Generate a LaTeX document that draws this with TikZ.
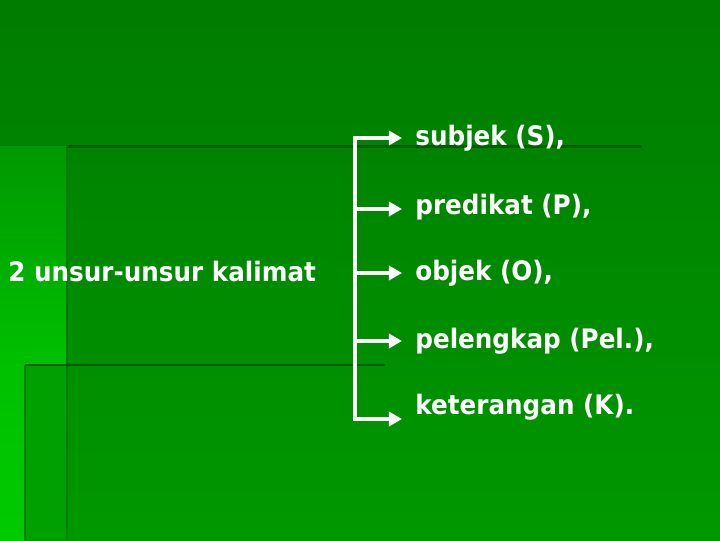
\documentclass[tikz,border=0pt]{standalone}
\usepackage{fontspec}
\newfontfamily\slidefont[FakeStretch=0.92]{DejaVu Sans}
\usetikzlibrary{arrows.meta,positioning}
\definecolor{bgtop}{RGB}{0,124,0}
\definecolor{bgbot}{RGB}{0,152,0}
\definecolor{stripa}{RGB}{0,152,0}
\definecolor{stripb}{RGB}{0,192,0}
\definecolor{stripc}{RGB}{0,202,0}
\definecolor{stripd}{RGB}{0,160,0}
\definecolor{rule}{RGB}{0,92,0}
\definecolor{softrule}{RGB}{0,120,0}
\tikzset{
    label/.style={inner sep=0pt,text=white,font=\slidefont\bfseries\fontsize{13.4}{16}\selectfont},
    item/.style={label,anchor=west},
    link/.style={white,line width=2.3pt,line join=miter,shorten >=6.5pt},
    tip/.style={-{Triangle[length=6.5pt,width=7pt]}}
}
\begin{document}
\begin{tikzpicture}[x=0.5pt,y=-0.5pt]
    \fill[top color=bgtop,bottom color=bgbot] (0,0) rectangle (720,540);
    \fill[top color=stripa,bottom color=stripb] (0,146) rectangle (67,365);
    \fill[top color=stripb,bottom color=stripc] (0,365) rectangle (25,540);
    \fill[stripd] (25,365) rectangle (67,540);
    \draw[rule,line width=1.5pt] (67,146) -- (642,146);
    \draw[softrule,line width=1pt] (67,146) -- (67,540);
    \draw[rule,line width=1.2pt] (25,365) -- (385,365);
    \draw[softrule,line width=1pt] (25,365) -- (25,540);

    \node[label,anchor=west] (unsur) at (8,272) {2 unsur-unsur kalimat};
    \node[item] (s)   at (415,138) {subjek (S),};
    \node[item] (p)   at (415,207) {predikat (P),};
    \node[item] (o)   at (415,273) {objek (O),};
    \node[item] (pel) at (415,341) {pelengkap (Pel.),};
    \node[item] (k)   at (415,407) {keterangan (K).};
    \coordinate (top) at (355,138);
    \coordinate (bot) at (355,419);

    \draw[link,{Triangle[length=6.5pt,width=7pt]}-{Triangle[length=6.5pt,width=7pt]},shorten <=6.5pt]
        (s.west) -- (top) -- (bot) -- ([yshift=-6pt]k.west);
    \draw[link,tip] (top |- 0,209) -- ([yshift=-1pt]p.west);
    \draw[link,tip] (top |- o.west) -- (o.west);
    \draw[link,tip] (top |- pel.west) -- (pel.west);
\end{tikzpicture}
\end{document}
